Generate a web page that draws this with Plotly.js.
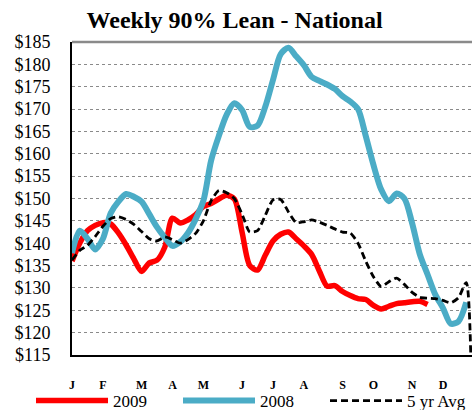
<!DOCTYPE html>
<html>
<head>
<meta charset="utf-8">
<script src="https://cdn.plot.ly/plotly-3.0.1.min.js"></script>
<style>html,body{margin:0;padding:0;background:#fff;}#chart{width:472px;height:410px;}</style>
</head>
<body>
<div id="chart"></div>
<script>
// Week index (0 = first week of January)
const weeks2009 = [0,1,2,3,4,5,6,7,8,9,10,11,12,13,14,15,16,17,18,19,20,21,22,23,24,25,26,27,28,29,30,31,32,33,34,35,36,37,38,39,40,41,42,43,44,45,46];
const values2009 = [136,140,142.8,144,144.6,144.3,142.3,139.6,136.5,133.7,135.6,136.2,139.1,145.6,144.5,145.2,146.4,148.2,148.9,149.9,150.7,149.9,142.5,135,134,137.3,140.5,142,142.5,141,139.4,137.5,133.8,130.4,130.5,129.2,128.3,127.6,127.4,126.1,125.3,125.9,126.5,126.7,126.9,127,126.3];

const weeks2008 = [0,1,2,3,4,5,6,7,8,9,10,11,12,13,14,15,16,17,18,19,20,21,22,23,24,25,26,27,28,29,30,31,32,33,34,35,36,37,38,39,40,41,42,43,44,45,46,47,48,49,50,51];
const values2008 = [137.8,142.8,141,138.6,141,146.7,149.3,151,150.4,149.3,146.5,143.6,141.3,139.4,140.3,142.3,145.4,149.5,158.5,164,168.7,171.3,169.8,166,166.3,170.5,176.5,182.3,183.7,181.8,179.8,177.2,176.3,175.5,174.5,172.9,171.7,170,164,157.5,152,149.4,151.1,150,144.5,137.5,133,128.5,125.5,122,122.5,126.8];

const weeksAvg = [0,1,2,3,4,5,6,7,8,9,10,11,12,13,14,15,16,17,18,19,20,21,22,23,24,25,26,27,28,29,30,31,32,33,34,35,36,37,38,39,40,41,42,43,44,45,46,47,48,49,50,51,52];
const valuesAvg = [136.2,138.4,139.5,141.5,143.8,145.5,145.9,145.3,144.2,142.6,141,140.5,141.4,140.8,140,140.8,142.2,145,149.5,151.8,151.3,150,146.5,142.5,142.8,146.2,149.7,149.8,147,144.6,144.8,145.2,144.7,144,143.2,142.5,142.3,140,136,132.5,130.3,131.4,132.2,130.8,129,127.9,127.7,127.6,127.2,126.7,127.8,131.2,0];

const monthTickWeeks = [0,4,9,13,17,22,26,30,35,39,44,48];
const monthLabels = ['J','F','M','A','M','J','J','A','S','O','N','D'];

const serif = 'Liberation Serif, Times New Roman, serif';

const traces = [
  {x: weeks2009, y: values2009, name: '2009', mode: 'lines',
   line: {color: '#FF0000', width: 5.5, shape: 'spline', smoothing: 0.8}},
  {x: weeks2008, y: values2008, name: '2008', mode: 'lines',
   line: {color: '#4BACC6', width: 6, shape: 'spline', smoothing: 0.8}},
  {x: weeksAvg, y: valuesAvg, name: '5 yr Avg', mode: 'lines',
   line: {color: '#000000', width: 2.8, dash: '7px,4px', shape: 'spline', smoothing: 0.6}}
];

const layout = {
  width: 472, height: 410,
  margin: {l: 72, r: 0, t: 42, b: 55, autoexpand: false},
  paper_bgcolor: '#ffffff', plot_bgcolor: '#ffffff',
  title: {text: 'Weekly 90% Lean - National', x: 0.497, xref: 'container', xanchor: 'center',
          y: 0.951, yref: 'container', yanchor: 'middle',
          font: {family: serif, size: 24, weight: 'bold', color: '#000'}},
  xaxis: {range: [0, 51.75], tickvals: monthTickWeeks, ticktext: monthLabels,
          showgrid: false, zeroline: false, showline: true, linecolor: '#000', linewidth: 2,
          ticks: 'outside', ticklen: 18, tickcolor: 'rgba(0,0,0,0)',
          tickfont: {family: serif, size: 12, weight: 'bold', color: '#000'}, fixedrange: true},
  yaxis: {range: [115, 185], dtick: 5, tick0: 115, tickprefix: '$',
          showgrid: true, gridcolor: '#8a8a8a', griddash: 'dot', gridwidth: 1,
          zeroline: false, showline: true, linecolor: '#000', linewidth: 2,
          ticks: 'outside', ticklen: 16, tickcolor: 'rgba(0,0,0,0)',
          tickfont: {family: serif, size: 18, color: '#000'}, fixedrange: true},
  shapes: [{type: 'line', xref: 'paper', yref: 'paper', x0: 0, x1: 1, y0: 1, y1: 1,
            line: {color: '#8a8a8a', width: 2.5}}],
  showlegend: true,
  legend: {orientation: 'h', xref: 'paper', yref: 'paper', x: -0.1025, xanchor: 'left',
           y: -0.147, yanchor: 'middle', itemwidth: 72, entrywidth: 60, entrywidthmode: 'pixels',
           font: {family: serif, size: 17, color: '#000'}, bgcolor: 'rgba(0,0,0,0)'}
};

Plotly.newPlot('chart', traces, layout, {displayModeBar: false, staticPlot: true});
</script>
</body>
</html>
